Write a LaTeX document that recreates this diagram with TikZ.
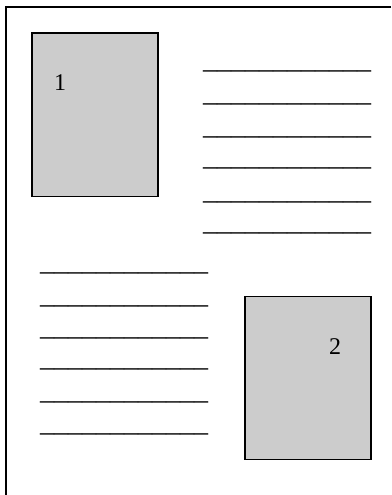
\documentclass[tikz,border=0pt]{standalone}
\usepackage{fontspec}
\setmainfont{Liberation Serif}
\definecolor{boxgray}{RGB}{204,204,204}
\begin{document}
\begin{tikzpicture}[x=1pt,y=-1pt,
  pagebox/.style={draw=black,line width=1.6pt,fill=boxgray,inner sep=0pt,minimum width=126pt,minimum height=163pt,anchor=north west},
  numlabel/.style={font=\fontsize{24}{24}\selectfont,inner sep=0pt},
  rule/.style={font=\fontsize{28}{28}\selectfont,inner sep=0pt,anchor=base west},
  frame/.style={line width=2pt}]
\useasboundingbox (0,0) rectangle (391,495);
\coordinate (tl) at (5.7,6.7);
\coordinate (tr) at (391,6.7);
\coordinate (bl) at (5.7,495);
\draw[frame] (tr) -- (tl) -- (bl);
\node[pagebox] (p1) at (31,32.5) {};
\node[pagebox] (p2) at (244,295.5) {};
\node[numlabel] (n1) at (60,83) {1};
\node[numlabel] (n2) at (335,347) {2};
\foreach \y [count=\i] in {72,104,137,168,202,233}
  \node[rule] (r\i) at (203,\y-3) {\_\_\_\_\_\_\_\_\_\_\_\_};
\foreach \y [count=\i] in {273,306,338,369,402,434}
  \node[rule] (l\i) at (40,\y-3) {\_\_\_\_\_\_\_\_\_\_\_\_};
\end{tikzpicture}
\end{document}
